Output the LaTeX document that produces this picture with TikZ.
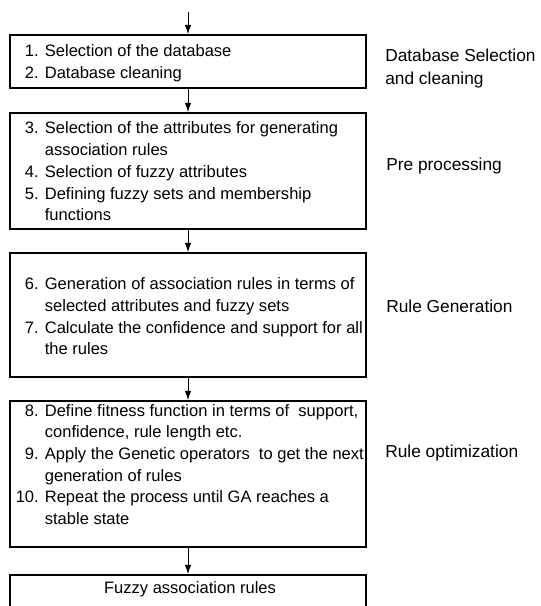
\documentclass[tikz,border=0pt]{standalone}
\usepackage{fontspec}
\setmainfont{Liberation Sans}
\usetikzlibrary{arrows.meta}
\begin{document}
\begin{tikzpicture}[x=0.75pt,y=-0.75pt,
  box/.style={draw,line width=1.3pt,minimum width=267pt,inner sep=0pt},
  steps/.style={anchor=west,inner sep=0pt,font=\fontsize{12.4}{16.3}\selectfont},
  phase/.style={anchor=west,inner sep=0pt,align=left,font=\fontsize{13}{17.25}\selectfont},
  flow/.style={line width=0.75pt,-{Latex[length=7pt,width=5pt]}}]
\useasboundingbox (0,0) rectangle (541,606);
\clip (0,0) rectangle (541,606);
\coordinate (start) at (188,12);
\node[box,minimum height=39.75pt] (b1) at (188,61.5) {};
\node[box,minimum height=87pt] (b2) at (188,171) {};
\node[box,minimum height=93pt] (b3) at (188,315) {};
\node[box,minimum height=109.5pt] (b4) at (188,474) {};
\node[box,minimum height=45pt] (b5) at (188,605) {};
\node[steps] (t1) at (15.5,63.5) {\begin{tabular}{@{}r@{ }l@{}}
\phantom{1}1. & Selection of the database\\
\phantom{1}2. & Database cleaning\end{tabular}};
\node[steps] (t2) at (15.5,173) {\begin{tabular}{@{}r@{ }l@{}}
\phantom{1}3. & Selection of the attributes for generating\\
 & association rules\\
\phantom{1}4. & Selection of fuzzy attributes\\
\phantom{1}5. & Defining fuzzy sets and membership\\
 & functions\end{tabular}};
\node[steps] (t3) at (15.5,318) {\begin{tabular}{@{}r@{ }l@{}}
\phantom{1}6. & Generation of association rules in terms of\\
 & selected attributes and fuzzy sets\\
\phantom{1}7. & Calculate the confidence and support for all\\
 & the rules\end{tabular}};
\node[steps] (t4) at (15.5,466) {\begin{tabular}{@{}r@{ }l@{}}
\phantom{1}8. & Define fitness function in terms of\ \ support,\\
 & confidence, rule length etc.\\
\phantom{1}9. & Apply the Genetic operators\ \ to get the next\\
 & generation of rules\\
10. & Repeat the process until GA reaches a\\
 & stable state\end{tabular}};
\node[inner sep=0pt,font=\fontsize{12.4}{16.3}\selectfont] (t5) at (190,589) {Fuzzy association rules};
\node[phase] (p1) at (385,68.5) {Database Selection\\and cleaning};
\node[phase] (p2) at (386,166) {Pre processing};
\node[phase] (p3) at (386,306) {Rule Generation};
\node[phase] (p4) at (385,453) {Rule optimization};
\draw[flow] (start) -- (b1.north);
\draw[flow] (b1.south) -- (b2.north);
\draw[flow] (b2.south) -- (b3.north);
\draw[flow] (b3.south) -- (b4.north);
\draw[flow] (b4.south) -- (b5.north);
\end{tikzpicture}
\end{document}
